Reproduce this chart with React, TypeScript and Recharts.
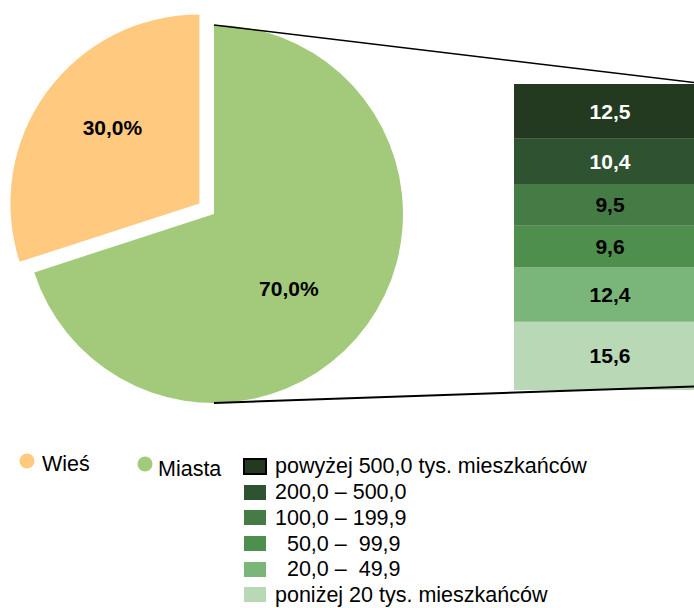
import React from "react";
import { PieChart, Pie, Cell, BarChart, Bar, XAxis, YAxis, LabelList } from "recharts";

// ---- data ----
const pieNames = ["Miasta", "Wieś"];
const pieValues = [70.0, 30.0];
const pieColors = ["#a2ca7a", "#ffca80"];

// city size classes, bottom -> top of the stacked bar
const classKeys = ["c1", "c2", "c3", "c4", "c5", "c6"];
const classLabels = [
  "poniżej 20 tys. mieszkańców",
  "  20,0 –  49,9",
  "  50,0 –  99,9",
  "100,0 – 199,9",
  "200,0 – 500,0",
  "powyżej 500,0 tys. mieszkańców",
];
const classValues = [15.6, 12.4, 9.6, 9.5, 10.4, 12.5];
const classColors = ["#b8d8b6", "#7ab679", "#4f8f4e", "#457b44", "#2f5230", "#233a21"];
const classLabelColors = ["#000", "#000", "#000", "#000", "#fff", "#fff"];

// ---- layout ----
const W = 694;
const H = 608;
const PIE_CX = 214;
const PIE_CY = 214;
const PIE_R = 189;
const EXPLODE = 18;
const BAR_LEFT = 514;
const BAR_TOP = 84;
const BAR_W = 192;
const BAR_H = 306;
const FONT = "'Liberation Sans', Arial, sans-serif";
const LEG_FS = 21.5;

const pieData = pieNames.map((n, i) => ({ name: n, value: pieValues[i] }));
const barRow: Record<string, any> = { name: "Miasta" };
classKeys.forEach((k, i) => (barRow[k] = classValues[i]));
const barData = [barRow];
const barTotal = classValues.reduce((a, b) => a + b, 0);

const START = 90;
const END = -270;
// mid angle of Wieś slice, for explosion direction
const wiesMid = START - (360 * (pieValues[0] + pieValues[1] / 2)) / 100;
const RAD = Math.PI / 180;
const wiesCx = PIE_CX + EXPLODE * Math.cos(wiesMid * RAD);
const wiesCy = PIE_CY - EXPLODE * Math.sin(wiesMid * RAD);

const fmt = (v: number) => v.toFixed(1).replace(".", ",");
const labelAngleOffset = [-9, -5];
const labelRadiusRatio = [0.56, 0.61];

const makeLabel = (only: number) => (props: any) => {
  const { cx, cy, midAngle, outerRadius, index, value } = props;
  if (index !== only) return null;
  const a = (midAngle + labelAngleOffset[index]) * RAD;
  const r = outerRadius * labelRadiusRatio[index];
  const x = cx + r * Math.cos(-a);
  const y = cy + r * Math.sin(-a);
  return (
    <text
      x={x}
      y={y}
      textAnchor="middle"
      dominantBaseline="central"
      fontFamily={FONT}
      fontWeight="bold"
      fontSize={21}
      fill="#000"
    >
      {fmt(value) + "%"}
    </text>
  );
};

export default function App() {
  const legendTops = [455.5, 481.5, 507.5, 533.5, 558.5, 584.5];
  const squareTops = [459, 485, 510, 536, 562, 587];
  const rowsTopDown = classLabels.map((_, i) => classLabels.length - 1 - i);
  return (
    <div
      style={{
        position: "absolute",
        left: 0,
        top: 0,
        width: W,
        height: H,
        overflow: "hidden",
        background: "#fff",
        fontFamily: FONT,
      }}
    >
      <div style={{ position: "absolute", left: 0, top: 0 }}>
        <PieChart width={W} height={H} margin={{ top: 0, right: 0, bottom: 0, left: 0 }}>
          <Pie
            data={pieData}
            dataKey="value"
            nameKey="name"
            cx={PIE_CX}
            cy={PIE_CY}
            outerRadius={PIE_R}
            startAngle={START}
            endAngle={END}
            stroke="none"
            isAnimationActive={false}
            labelLine={false}
            label={makeLabel(0)}
          >
            {pieData.map((d, i) => (
              <Cell key={d.name} fill={i === 0 ? pieColors[0] : "none"} />
            ))}
          </Pie>
          <Pie
            data={pieData}
            dataKey="value"
            nameKey="name"
            cx={wiesCx}
            cy={wiesCy}
            outerRadius={PIE_R}
            startAngle={START}
            endAngle={END}
            stroke="none"
            isAnimationActive={false}
            labelLine={false}
            label={makeLabel(1)}
          >
            {pieData.map((d, i) => (
              <Cell key={d.name} fill={i === 1 ? pieColors[1] : "none"} />
            ))}
          </Pie>
        </PieChart>
      </div>

      <div style={{ position: "absolute", left: BAR_LEFT, top: BAR_TOP }}>
        <BarChart
          width={BAR_W}
          height={BAR_H}
          data={barData}
          margin={{ top: 0, right: 0, bottom: 0, left: 0 }}
          barCategoryGap={0}
        >
          <XAxis dataKey="name" hide />
          <YAxis type="number" hide domain={[0, barTotal]} />
          {classKeys.map((k, i) => (
            <Bar key={k} dataKey={k} stackId="a" fill={classColors[i]} isAnimationActive={false}>
              <LabelList
                dataKey={k}
                position="center"
                formatter={(v: any) => fmt(Number(v))}
                fill={classLabelColors[i]}
                fontFamily={FONT}
                fontWeight="bold"
                fontSize={21}
              />
            </Bar>
          ))}
        </BarChart>
      </div>

      <svg
        width={W}
        height={H}
        style={{ position: "absolute", left: 0, top: 0, pointerEvents: "none" }}
      >
        <line
          x1={PIE_CX}
          y1={PIE_CY - PIE_R}
          x2={BAR_LEFT + BAR_W}
          y2={BAR_TOP}
          stroke="#000"
          strokeWidth={1.5}
        />
        <line
          x1={PIE_CX}
          y1={PIE_CY + PIE_R}
          x2={BAR_LEFT + BAR_W}
          y2={BAR_TOP + BAR_H - 4}
          stroke="#000"
          strokeWidth={2}
        />
        <circle cx={27} cy={461} r={7.5} fill={pieColors[1]} />
        <circle cx={145} cy={464} r={7.5} fill={pieColors[0]} />
        {rowsTopDown.map((ci, row) => (
          <rect
            key={ci}
            x={244}
            y={squareTops[row]}
            width={22}
            height={15}
            fill={classColors[ci]}
            stroke={row === 0 ? "#000" : "none"}
            strokeWidth={row === 0 ? 2 : 0}
          />
        ))}
      </svg>

      <div style={{ position: "absolute", left: 42, top: 453.5, fontSize: LEG_FS, lineHeight: "21px", color: "#000" }}>
        {pieNames[1]}
      </div>
      <div style={{ position: "absolute", left: 158, top: 458.5, fontSize: LEG_FS, lineHeight: "21px", color: "#000" }}>
        {pieNames[0]}
      </div>
      {rowsTopDown.map((ci, row) => (
        <div
          key={ci}
          style={{
            position: "absolute",
            left: 275,
            top: legendTops[row],
            fontSize: LEG_FS,
            lineHeight: "21px",
            whiteSpace: "pre",
            color: "#000",
          }}
        >
          {classLabels[ci]}
        </div>
      ))}
    </div>
  );
}
